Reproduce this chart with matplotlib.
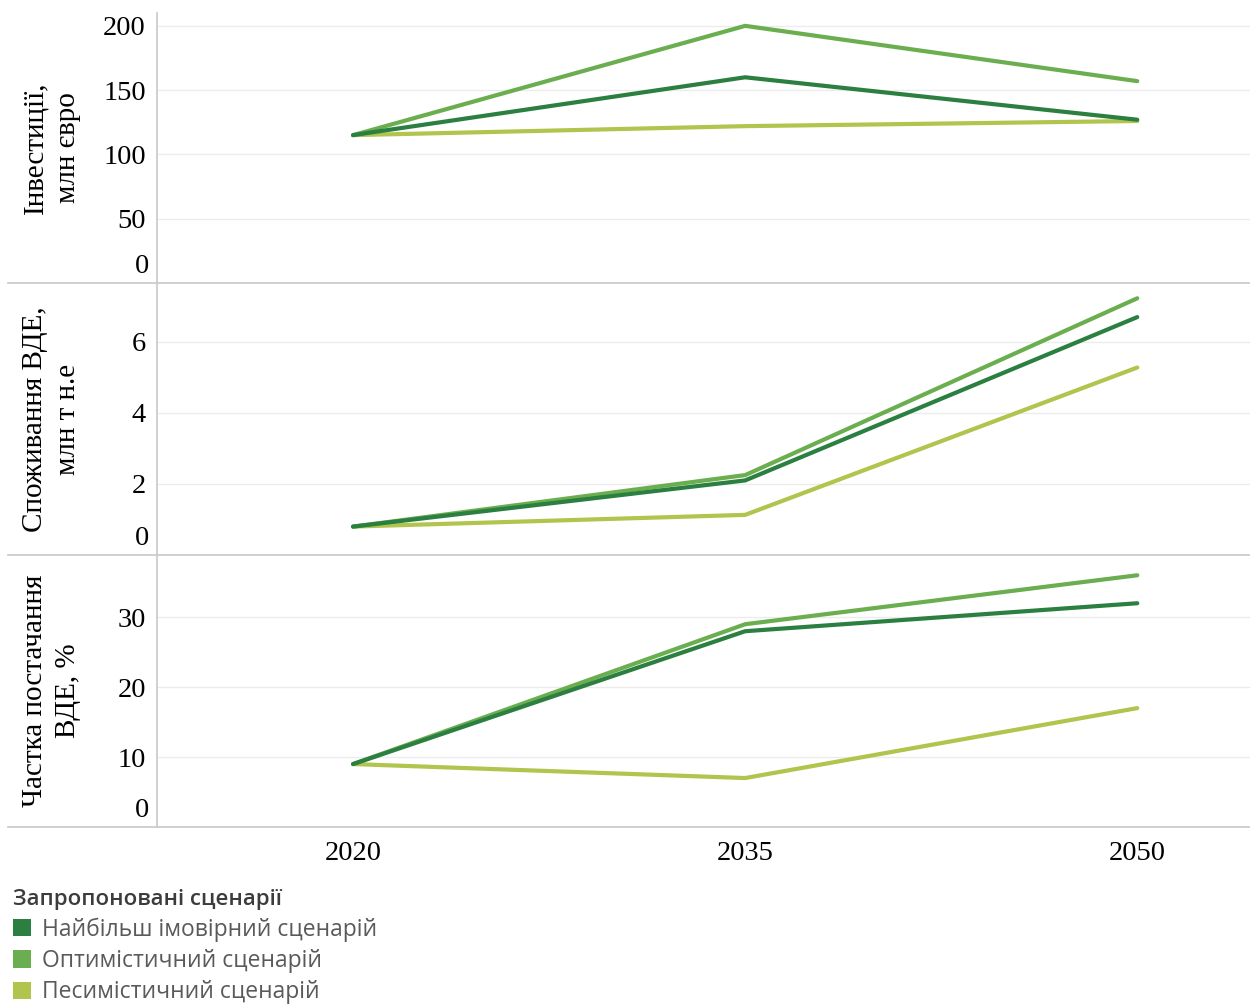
import numpy as np
import matplotlib.pyplot as plt
from matplotlib.lines import Line2D
from matplotlib.patches import Patch

# Data
years = ['2020', '2035', '2050']
scenarios = ['Найбільш імовірний сценарій', 'Оптимістичний сценарій', 'Песимістичний сценарій']
colors = ['#2b7f40', '#6bae50', '#b1c44d']

invest_likely = [115, 160, 127]
invest_opt = [115, 200, 157]
invest_pess = [115, 122, 126]

cons_likely = [0.8, 2.1, 6.7]
cons_opt = [0.8, 2.25, 7.23]
cons_pess = [0.8, 1.13, 5.28]

share_likely = [9, 28, 32]
share_opt = [9, 29, 36]
share_pess = [9, 7, 17]

ylabels = ['Інвестиції,\nмлн євро', 'Споживання ВДЕ,\nмлн т н.е', 'Частка постачання\nВДЕ, %']
yticks = [[0, 50, 100, 150, 200], [0, 2, 4, 6], [0, 10, 20, 30]]
ytops = [210, 7.66, 38.9]
series = [
    (invest_likely, invest_opt, invest_pess),
    (cons_likely, cons_opt, cons_pess),
    (share_likely, share_opt, share_pess),
]

W, H = 1250, 1005
fig = plt.figure(figsize=(W / 100, H / 100), dpi=100)


def fx(x):
    return x / W


def fy(y):
    return 1 - y / H


panels = [(13, 283), (283, 555), (555, 827)]
x = np.arange(len(years))
serif = 'Liberation Serif'
tick_fs = 20.5

for k, (top, bottom) in enumerate(panels):
    ax = fig.add_axes([fx(157), fy(bottom), 1 - fx(157), (bottom - top) / H])
    for s in ['top', 'right', 'bottom']:
        ax.spines[s].set_visible(False)
    ax.spines['left'].set_color('#c8c8c8')
    ax.spines['left'].set_linewidth(1.2)
    ax.set_xlim(-0.5, 2.2875)
    ax.set_ylim(0, ytops[k])
    # zero label is drawn separately, lifted above the panel border
    ax.set_yticks(yticks[k], labels=[''] + [str(t) for t in yticks[k][1:]])
    ax.grid(axis='y', color='#ececec', lw=1)
    ax.set_axisbelow(True)
    ax.tick_params(length=0, pad=8, labelsize=tick_fs)
    for lbl in ax.get_yticklabels():
        lbl.set_family(serif)
    ax.annotate(str(yticks[k][0]), xy=(0, 0), xycoords=('axes fraction', 'data'),
                xytext=(-5.8, 12.2), textcoords='offset points', ha='right', va='center',
                fontsize=tick_fs, family=serif)

    likely, opt, pess = series[k]
    ax.plot(x, pess, color=colors[2], lw=3, solid_capstyle='round')
    ax.plot(x, opt, color=colors[1], lw=3, solid_capstyle='round')
    ax.plot(x, likely, color=colors[0], lw=3, solid_capstyle='round')

    ax.set_xticks(x, labels=years)
    if k < 2:
        ax.tick_params(axis='x', labelbottom=False)
    else:
        ax.tick_params(axis='x', pad=10)
        for lbl in ax.get_xticklabels():
            lbl.set_family(serif)

    ax.text((52 - 157) / (W - 157), 0.5, ylabels[k], transform=ax.transAxes,
            rotation=90, ha='center', va='center', multialignment='center',
            fontsize=21, family=serif, linespacing=1.35)

for y in [283, 555, 827]:
    fig.add_artist(Line2D([fx(8), 1], [fy(y), fy(y)], color='#c8c8c8', lw=1.2))

handles = [Patch(facecolor=c, edgecolor='none') for c in colors]
leg = fig.legend(handles, scenarios, loc='upper left', bbox_to_anchor=(fx(13), fy(889)),
                 frameon=False, title='Запропоновані сценарії', alignment='left',
                 prop={'family': 'Open Sans', 'size': 16.5},
                 title_fontproperties={'family': 'Open Sans', 'size': 16, 'weight': 'semibold'},
                 handlelength=0.8, handleheight=0.8, handletextpad=0.45,
                 labelspacing=0.32, borderpad=0, borderaxespad=0)
for t in leg.get_texts():
    t.set_color('#5a5a5a')
leg.get_title().set_color('#3c3c3c')

fig.savefig('out.png', dpi=100)
